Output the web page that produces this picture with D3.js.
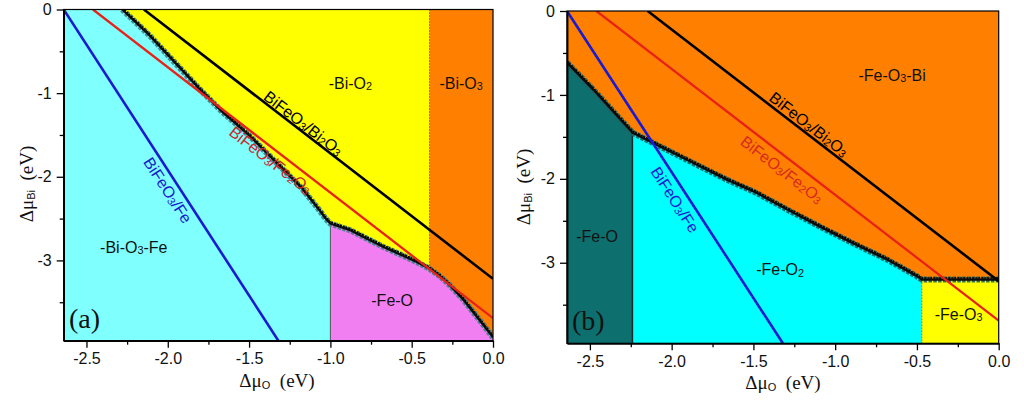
<!DOCTYPE html>
<html><head><meta charset="utf-8">
<script src="https://cdn.jsdelivr.net/npm/d3@7"></script>
<style>body{margin:0;background:#fff;} svg{display:block;}</style>
</head><body><svg id="c" width="1024" height="410"></svg>
<script>
// ---------- data ----------
const xDomain = [-2.64, 0];
const yDomain = [-3.96, 0];
const xTicks = [-2.5, -2.0, -1.5, -1.0, -0.5, 0.0];
const xTickLabels = ["-2.5", "-2.0", "-1.5", "-1.0", "-0.5", "0.0"];
const xMinorTicks = [-2.25, -1.75, -1.25, -0.75, -0.25];
const yTicks = [0, -1, -2, -3];
const yTickLabels = ["0", "-1", "-2", "-3"];
const yMinorTicks = [-0.5, -1.5, -2.5, -3.5];

// limit lines (endpoints)
const lineBi2O3 = [[-2.147, 0], [0, -3.22]];
const lineFe2O3 = [[-2.46, 0], [0, -3.69]];
const lineFe = [[-2.64, 0], [-1.32, -3.96]];

// stability boundaries (ΔμO, ΔμBi)
const boundaryA = [[-2.28, 0], [-2.115, -0.305], [-1.971, -0.605], [-1.808, -0.944], [-1.665, -1.224],
  [-1.501, -1.503], [-1.337, -1.823], [-1.174, -2.141], [-1.06, -2.42], [-1.03, -2.50], [-1.0, -2.56],
  [-0.877, -2.64], [-0.775, -2.74], [-0.673, -2.84], [-0.57, -2.93], [-0.468, -3.02], [-0.39, -3.10],
  [-0.325, -3.19], [-0.264, -3.30], [-0.182, -3.47], [-0.121, -3.62], [-0.06, -3.77], [0, -3.92]];
const boundaryB = [[-2.64, -0.615], [-2.478, -0.94], [-2.356, -1.20], [-2.254, -1.417], [-2.24, -1.45],
  [-2.111, -1.575], [-1.867, -1.813], [-1.663, -2.01], [-1.479, -2.17], [-1.29, -2.37], [-1.093, -2.57],
  [-0.889, -2.77], [-0.685, -2.96], [-0.501, -3.16], [-0.47, -3.20], [0, -3.20]];

// phase borders (ΔμO)
const splitsA = [-1.0, -0.39];
const splitsB = [-2.24, -0.47];

// ---------- layout / style ----------
const panels = [
  {id: "a", left: 63.7, right: 493, top: 9.5, bottom: 340.7, bg: "#80ffff", boundary: boundaryA, marker: "#3f7f88",
   regions: [
     {type: "above", x0: -2.28, x1: splitsA[1], color: "#ffff00"},
     {type: "above", x0: splitsA[1], x1: 0, color: "#ff8000"},
     {type: "below", x0: splitsA[0], x1: 0, color: "#f27ff2"}],
   dividers: [{x: splitsA[0], side: "below", color: "#555", w: 1, dash: null},
              {x: splitsA[1], side: "above", color: "#444", w: 0.8, dash: "1.5,1.5"}],
   labels: [
     {t: "-Bi-O_2", x: -0.877, y: -0.88}, {t: "-Bi-O_3", x: -0.196, y: -0.88},
     {t: "-Bi-O_3-Fe", x: -2.209, y: -2.844}, {t: "-Fe-O", x: -0.62, y: -3.479}],
   lineLabels: [
     {t: "BiFeO_3/Bi_2O_3", x: -1.166, y: -1.36, line: lineBi2O3, color: "#000"},
     {t: "BiFeO_3/Fe_2O_3", x: -1.368, y: -1.80, line: lineFe2O3, color: "#c8282c"},
     {t: "BiFeO_3/Fe", x: -2.0, y: -2.162, line: lineFe, color: "#1a1ad0"}],
   tag: "(a)", tagX: 69, tagY: 328, xTitleX: 277, xTitleY: 387, yTitleX: 33, yTitleY: 184},
  {id: "b", left: 567, right: 998.7, top: 11, bottom: 343.3, bg: "#ff8000", boundary: boundaryB, marker: "#1f6266",
   regions: [
     {type: "below", x0: -2.64, x1: splitsB[0], color: "#0e6f6f"},
     {type: "below", x0: splitsB[0], x1: splitsB[1], color: "#00ffff"},
     {type: "below", x0: splitsB[1], x1: 0, color: "#ffff00"}],
   dividers: [{x: splitsB[0], side: "below", color: "#1a2a2a", w: 1.5, dash: null},
              {x: splitsB[1], side: "below", color: "#2a8a8a", w: 0.8, dash: "1.5,1.5"}],
   labels: [
     {t: "-Fe-O_3-Bi", x: -0.652, y: -0.762}, {t: "-Fe-O", x: -2.456, y: -2.69},
     {t: "-Fe-O_2", x: -1.337, y: -3.083}, {t: "-Fe-O_3", x: -0.245, y: -3.619}],
   lineLabels: [
     {t: "BiFeO_3/Bi_2O_3", x: -1.161, y: -1.35, line: lineBi2O3, color: "#000"},
     {t: "BiFeO_3/Fe_2O_3", x: -1.325, y: -1.89, line: lineFe2O3, color: "#d82a22"},
     {t: "BiFeO_3/Fe", x: -1.98, y: -2.25, line: lineFe, color: "#1a1ad0"}],
   tag: "(b)", tagX: 572, tagY: 330, xTitleX: 783, xTitleY: 389, yTitleX: 530, yTitleY: 187}
];

const SANS = "'Liberation Sans', Arial, sans-serif";
const SERIF = "'Liberation Serif', 'Times New Roman', serif";
const svg = d3.select("#c");

function rich(sel, str, fs) {
  const parts = str.split(/(_[^_])/).filter(s => s.length);
  let shifted = false;
  parts.forEach(p => {
    if (p[0] === "_") {
      sel.append("tspan").attr("font-size", fs * 0.68).attr("dy", shifted ? 0 : 1.2).text(p[1]);
      shifted = true;
    } else {
      sel.append("tspan").attr("font-size", fs).attr("dy", shifted ? -1.2 : 0).text(p);
      shifted = false;
    }
  });
}

panels.forEach(P => {
  const x = d3.scaleLinear().domain(xDomain).range([P.left, P.right]);
  const y = d3.scaleLinear().domain(yDomain).range([P.bottom, P.top]);
  const g = svg.append("g");
  const clipId = "clip" + P.id;
  svg.append("defs").append("clipPath").attr("id", clipId)
    .append("rect").attr("x", P.left).attr("y", P.top)
    .attr("width", P.right - P.left).attr("height", P.bottom - P.top);
  const plot = g.append("g").attr("clip-path", `url(#${clipId})`);

  plot.append("rect").attr("x", P.left).attr("y", P.top)
    .attr("width", P.right - P.left).attr("height", P.bottom - P.top).attr("fill", P.bg);

  const line = d3.line().x(d => x(d[0])).y(d => y(d[1]));
  const seg = (x0, x1) => P.boundary.filter(p => p[0] >= x0 - 1e-9 && p[0] <= x1 + 1e-9);
  const yAt = xv => { const p = P.boundary.find(q => Math.abs(q[0] - xv) < 1e-9); return p ? p[1] : 0; };

  P.regions.forEach(R => {
    const pts = seg(R.x0, R.x1);
    let poly;
    if (R.type === "above") poly = [[R.x0, yDomain[1]], ...pts, [R.x1, yDomain[1]]];
    else poly = [[R.x0, yDomain[0]], ...pts, [R.x1, yDomain[0]]];
    plot.append("path").attr("d", line(poly) + "Z").attr("fill", R.color);
  });

  P.dividers.forEach(D => {
    const yb = yAt(D.x);
    const y2 = D.side === "above" ? yDomain[1] : yDomain[0];
    plot.append("line").attr("x1", x(D.x)).attr("x2", x(D.x)).attr("y1", y(yb)).attr("y2", y(y2))
      .attr("stroke", D.color).attr("stroke-width", D.w).attr("stroke-dasharray", D.dash);
  });

  // boundary: marker ring imitation + black line
  plot.append("path").attr("d", line(P.boundary)).attr("fill", "none")
    .attr("stroke", P.marker).attr("stroke-width", 6).attr("stroke-dasharray", "3.5,1.3").attr("opacity", 0.9);
  plot.append("path").attr("d", line(P.boundary)).attr("fill", "none")
    .attr("stroke", "#000").attr("stroke-width", 1.6).attr("stroke-dasharray", "2,1")
    .attr("transform", "translate(0,-1.6)");
  plot.append("path").attr("d", line(P.boundary)).attr("fill", "none")
    .attr("stroke", "#0a0a0a").attr("stroke-width", 2.2);

  // limit lines
  [[lineFe2O3, "#e82218", 2.3], [lineBi2O3, "#000", 2.6], [lineFe, "#1a1ad0", 2.6]].forEach(([L, c, w]) => {
    plot.append("path").attr("d", line(L)).attr("fill", "none").attr("stroke", c).attr("stroke-width", w);
  });

  // region labels
  P.labels.forEach(Lb => {
    const t = g.append("text").attr("x", x(Lb.x)).attr("y", y(Lb.y) + 5.6)
      .attr("text-anchor", "middle").attr("font-family", SANS).attr("fill", "#111");
    rich(t, Lb.t, 16);
  });
  // line labels
  P.lineLabels.forEach(Lb => {
    const [p0, p1] = Lb.line;
    const ang = Math.atan2(y(p1[1]) - y(p0[1]), x(p1[0]) - x(p0[0])) * 180 / Math.PI;
    const t = g.append("text").attr("transform", `translate(${x(Lb.x)},${y(Lb.y)}) rotate(${ang})`)
      .attr("x", 0).attr("y", 5.6).attr("text-anchor", "middle").attr("font-family", SANS).attr("fill", Lb.color);
    rich(t, Lb.t, 16);
  });

  // tag
  g.append("text").attr("x", P.tagX).attr("y", P.tagY).attr("font-family", SERIF)
    .attr("font-size", 28).attr("fill", "#111").text(P.tag);

  // axes
  const xa = g.append("g").attr("transform", `translate(0,${P.bottom})`)
    .call(d3.axisBottom(x).tickValues(xTicks).tickSize(7).tickSizeOuter(0).tickPadding(5)
      .tickFormat((d, i) => xTickLabels[i]));
  const xm = g.append("g").attr("transform", `translate(0,${P.bottom})`)
    .call(d3.axisBottom(x).tickValues(xMinorTicks).tickSize(4).tickSizeOuter(0).tickFormat(""));
  const ya = g.append("g").attr("transform", `translate(${P.left},0)`)
    .call(d3.axisLeft(y).tickValues(yTicks).tickSize(7).tickSizeOuter(0).tickPadding(5)
      .tickFormat((d, i) => yTickLabels[i]));
  const ym = g.append("g").attr("transform", `translate(${P.left},0)`)
    .call(d3.axisLeft(y).tickValues(yMinorTicks).tickSize(4).tickSizeOuter(0).tickFormat(""));
  [xa, xm, ya, ym].forEach(a => {
    a.selectAll("path").attr("stroke", "#000").attr("stroke-width", 1.5);
    a.selectAll("line").attr("stroke", "#000").attr("stroke-width", 1.3);
    a.selectAll("text").attr("font-family", SANS).attr("font-size", 16).attr("fill", "#111");
  });

  // frame
  g.append("rect").attr("x", P.left).attr("y", P.top)
    .attr("width", P.right - P.left).attr("height", P.bottom - P.top)
    .attr("fill", "none").attr("stroke", "#000").attr("stroke-width", 1.2);

  // axis titles
  const xt = g.append("text").attr("x", P.xTitleX).attr("y", P.xTitleY).attr("text-anchor", "middle")
    .attr("fill", "#111");
  xt.append("tspan").attr("font-family", SERIF).attr("font-size", 19).text("Δμ");
  xt.append("tspan").attr("font-family", SANS).attr("font-size", 11).attr("dy", 1.5).text("O");
  xt.append("tspan").attr("font-family", SERIF).attr("font-size", 19).attr("dy", -1.5).text("\u00a0\u00a0(eV)");

  const yt = g.append("text").attr("transform", `translate(${P.yTitleX},${P.yTitleY}) rotate(-90)`)
    .attr("text-anchor", "middle").attr("fill", "#111");
  yt.append("tspan").attr("font-family", SERIF).attr("font-size", 19).text("Δμ");
  yt.append("tspan").attr("font-family", SANS).attr("font-size", 11).attr("dy", 1.5).text("Bi");
  yt.append("tspan").attr("font-family", SERIF).attr("font-size", 19).attr("dy", -1.5).text("\u00a0\u00a0(eV)");
});
</script></body></html>
